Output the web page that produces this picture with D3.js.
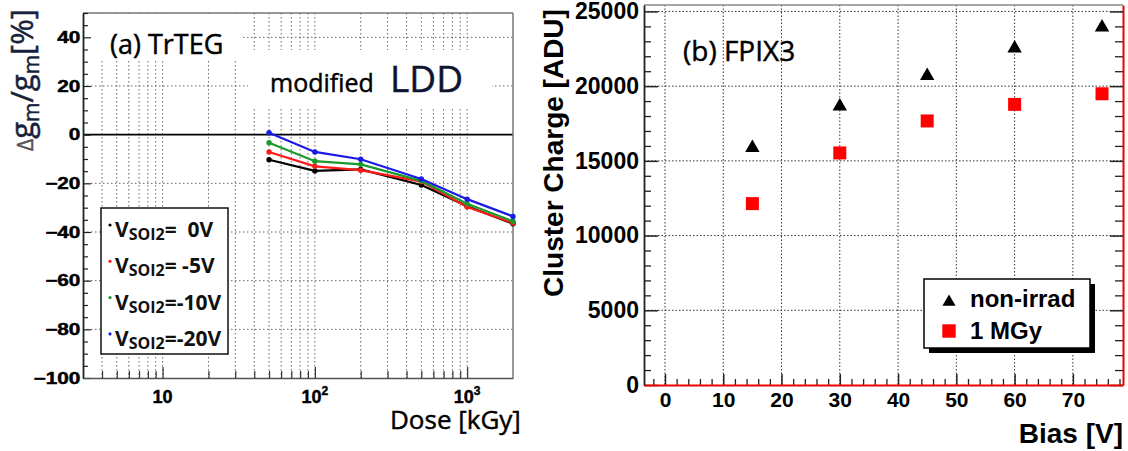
<!DOCTYPE html>
<html><head><meta charset="utf-8">
<script src="https://cdn.jsdelivr.net/npm/d3@7"></script>
<style>body{margin:0;background:#fff}svg{display:block}</style>
</head><body>
<svg id="c" width="1128" height="451"></svg>
<script>
// ---------- data: panel (a) ----------
const doses = [50, 100, 200, 500, 1000, 2000];
const vsoi0  = [-10.3, -14.9, -14.3, -20.7, -29.4, -36.6];
const vsoi5  = [-7.1, -13.0, -14.6, -19.3, -29.7, -36.3];
const vsoi10 = [-3.3, -10.9, -12.2, -19.0, -28.4, -35.6];
const vsoi20 = [0.8, -7.1, -10.1, -18.2, -26.5, -33.6];
const seriesNames = ["=  0V", "= -5V", "=-10V", "=-20V"];
const seriesColors = ["#000000", "#ff1a1a", "#1a9a2a", "#1a1ae6"];
const leftYTicks = [-100, -80, -60, -40, -20, 0, 20, 40];
const leftXTicks = [10, 100, 1000];
const leftXExp = ["", "2", "3"];

// ---------- data: panel (b) ----------
const bias = [15, 30, 45, 60, 75];
const nonIrrad = [16000, 18780, 20820, 22670, 24070];
const mgy1 = [12140, 15530, 17670, 18780, 19490];
const rightYTicks = [0, 5000, 10000, 15000, 20000, 25000];
const rightXTicks = [0, 10, 20, 30, 40, 50, 60, 70];
const legendB = ["non-irrad", "1 MGy"];

const svg = d3.select("#c");
const SANS = "'Liberation Sans', Arial, sans-serif";
const OPEN = "'Open Sans', 'Noto Sans', sans-serif";
// slightly heavier regular text (reference rendering is dark)
const heavy = (sel, col) => sel.attr("stroke", col).attr("stroke-width", 0.45).attr("paint-order", "fill");

// =============== PANEL (a) ===============
const A = {x0: 83, x1: 513, y0: 13, y1: 378};
const xL = d3.scaleLog().domain([3, 2000]).range([A.x0, A.x1]);
const yL = d3.scaleLinear().domain([-100, 50]).range([A.y1, A.y0]);

const gA = svg.append("g");
const logMinor = [];
for (let dec = 1; dec <= 1000; dec *= 10) for (let m = 1; m <= 9; m++) {
  const v = dec * m; if (v >= 4 && v <= 2000) logMinor.push(v);
}
// grid
gA.selectAll(".vg").data(logMinor.filter(v => v < 2000)).join("line")
  .attr("x1", d => xL(d)).attr("x2", d => xL(d)).attr("y1", A.y0).attr("y2", A.y1)
  .attr("stroke", "#666").attr("stroke-width", 1).attr("stroke-dasharray", "1.5,2.5");
gA.selectAll(".hg").data([-80, -60, -40, -20, 20, 40]).join("line")
  .attr("x1", A.x0).attr("x2", A.x1).attr("y1", d => yL(d)).attr("y2", d => yL(d))
  .attr("stroke", "#666").attr("stroke-width", 1).attr("stroke-dasharray", "1.5,2.5");
// white patches behind the annotations
gA.append("rect").attr("x", A.x0 + 1).attr("y", A.y0 + 1).attr("width", 157).attr("height", 47).attr("fill", "#fff");
gA.append("rect").attr("x", 248).attr("y", 50).attr("width", 244).attr("height", 57).attr("fill", "#fff");

// zero line
gA.append("line").attr("x1", A.x0).attr("x2", A.x1).attr("y1", yL(0)).attr("y2", yL(0))
  .attr("stroke", "#000").attr("stroke-width", 1.8);

// frame
gA.append("line").attr("x1", A.x0).attr("x2", A.x1).attr("y1", A.y0).attr("y2", A.y0).attr("stroke", "#777").attr("stroke-width", 1.5);
gA.append("line").attr("x1", A.x1).attr("x2", A.x1).attr("y1", A.y0).attr("y2", A.y1).attr("stroke", "#777").attr("stroke-width", 1.5);

// left axis
gA.append("g").attr("transform", `translate(${A.x0},0)`)
  .call(d3.axisLeft(yL).tickValues(d3.range(-95, 51, 5).filter(v => v % 20 !== 0)).tickSizeInner(-5).tickSizeOuter(0).tickFormat(""))
  .call(g => g.select(".domain").remove())
  .call(g => g.selectAll("line").attr("stroke", "#222").attr("stroke-width", 1.2));
gA.append("g").attr("transform", `translate(${A.x0},0)`)
  .call(d3.axisLeft(yL).tickValues(leftYTicks).tickSizeInner(-8).tickSizeOuter(0).tickPadding(2))
  .call(g => g.select(".domain").attr("stroke", "#222").attr("stroke-width", 1.8))
  .call(g => g.selectAll("line").attr("stroke", "#222").attr("stroke-width", 1.2))
  .call(g => heavy(g.selectAll("text").attr("font-family", SANS).attr("font-weight", "bold")
     .attr("font-size", 16).attr("fill", "#000").attr("transform", "scale(1.3,1)"), "#000"));

// bottom axis
gA.append("g").attr("transform", `translate(0,${A.y1})`)
  .call(d3.axisBottom(xL).tickValues(logMinor.filter(v => v < 2000 && !leftXTicks.includes(v))).tickSizeInner(-7).tickSizeOuter(0).tickFormat(""))
  .call(g => g.select(".domain").attr("stroke", "#555").attr("stroke-width", 1.5))
  .call(g => g.selectAll("line").attr("stroke", "#333").attr("stroke-width", 1.2));
gA.append("g").attr("transform", `translate(0,${A.y1})`)
  .call(d3.axisBottom(xL).tickValues(leftXTicks).tickSizeInner(-11).tickSizeOuter(0).tickFormat(""))
  .call(g => g.select(".domain").remove())
  .call(g => g.selectAll("line").attr("stroke", "#333").attr("stroke-width", 1.2));
const xlab = gA.selectAll(".xl").data(leftXTicks).join("text")
  .attr("x", d => xL(d)).attr("y", A.y1 + 25).attr("text-anchor", "middle")
  .attr("font-family", SANS).attr("font-weight", "bold").attr("font-size", 18).attr("fill", "#000");
heavy(xlab, "#000");
xlab.append("tspan").text("10");
xlab.append("tspan").attr("font-size", 12).attr("dy", -8).text((d, i) => leftXExp[i]);

// series
const seriesA = [vsoi0, vsoi5, vsoi10, vsoi20];
const line = d3.line().x(d => xL(d[0])).y(d => yL(d[1]));
seriesA.forEach((vals, i) => {
  const pts = doses.map((d, j) => [d, vals[j]]);
  gA.append("path").datum(pts).attr("d", line).attr("fill", "none")
    .attr("stroke", seriesColors[i]).attr("stroke-width", 2.2);
  gA.selectAll(null).data(pts).join("circle")
    .attr("cx", d => xL(d[0])).attr("cy", d => yL(d[1])).attr("r", 2.7).attr("fill", seriesColors[i]);
});

// legend (a)
const lgA = gA.append("g");
lgA.append("rect").attr("x", 101).attr("y", 208).attr("width", 127).attr("height", 146)
  .attr("fill", "#fff").attr("stroke", "#111").attr("stroke-width", 1.5);
seriesNames.forEach((nm, i) => {
  const by = 237 + i * 36.3;
  lgA.append("circle").attr("cx", 110).attr("cy", by - 12).attr("r", 1.6).attr("fill", seriesColors[i]);
  const t = lgA.append("text").attr("x", 115).attr("y", by).attr("xml:space", "preserve")
    .attr("font-family", OPEN).attr("font-weight", "bold").attr("font-size", 21).attr("fill", "#111");
  t.append("tspan").text("V");
  t.append("tspan").attr("font-size", 16).attr("dy", 3).text("SOI2");
  t.append("tspan").attr("dy", -3).text(nm);
});

// annotations (a)
heavy(gA.append("text").attr("x", 110).attr("y", 54).attr("font-family", OPEN).attr("font-size", 27).attr("fill", "#000").text("(a) TrTEG"), "#000");
heavy(gA.append("text").attr("x", 270).attr("y", 92).attr("font-family", OPEN).attr("font-size", 25).attr("fill", "#000").text("modified"), "#000");
heavy(gA.append("text").attr("x", 390).attr("y", 92).attr("font-family", OPEN).attr("font-size", 37).attr("fill", "#0d1530").text("LDD"), "#0d1530");
const dl = gA.append("text").attr("x", 390).attr("y", 429).attr("font-family", OPEN).attr("font-size", 26).attr("fill", "#000");
heavy(dl, "#000");
dl.append("tspan").text("Dose ");
dl.append("tspan").text("[kGy]");

const yt = gA.append("text").attr("transform", "translate(33,80) rotate(-90)").attr("text-anchor", "middle")
  .attr("font-family", OPEN).attr("font-size", 31).attr("fill", "#16223a");
heavy(yt, "#16223a");
yt.append("tspan").attr("font-size", 21).attr("fill", "#555").attr("stroke", "#555").text("Δ");
yt.append("tspan").text("g");
yt.append("tspan").attr("font-size", 21).attr("dy", 6).text("m");
yt.append("tspan").attr("dy", -6).text("/g");
yt.append("tspan").attr("font-size", 21).attr("dy", 6).text("m");
yt.append("tspan").attr("dy", -6).text("[%]");

// =============== PANEL (b) ===============
const B = {x0: 644, x1: 1123, y0: 5, y1: 385};
const xR = d3.scaleLinear().domain([-3.6, 78.6]).range([B.x0, B.x1]);
const yR = d3.scaleLinear().domain([0, 25430]).range([B.y1, B.y0]);
const gB = svg.append("g");

// grid
gB.selectAll(".vg").data(rightXTicks).join("line")
  .attr("x1", d => xR(d)).attr("x2", d => xR(d)).attr("y1", B.y0).attr("y2", B.y1)
  .attr("stroke", "#333").attr("stroke-width", 1).attr("stroke-dasharray", "1.5,2");
gB.selectAll(".hg").data(rightYTicks.filter(v => v > 0)).join("line")
  .attr("x1", B.x0).attr("x2", B.x1).attr("y1", d => yR(d)).attr("y2", d => yR(d))
  .attr("stroke", "#333").attr("stroke-width", 1).attr("stroke-dasharray", "1.5,2");

// frame top
gB.append("line").attr("x1", B.x0).attr("x2", B.x1).attr("y1", B.y0).attr("y2", B.y0).attr("stroke", "#888").attr("stroke-width", 1.5);

const minorY = d3.range(1000, 25001, 1000).filter(v => v % 5000 !== 0);
// left axis
gB.append("g").attr("transform", `translate(${B.x0},0)`)
  .call(d3.axisLeft(yR).tickValues(minorY).tickSizeInner(-7).tickSizeOuter(0).tickFormat(""))
  .call(g => g.select(".domain").remove()).call(g => g.selectAll("line").attr("stroke", "#222").attr("stroke-width", 1.3));
gB.append("g").attr("transform", `translate(${B.x0},0)`)
  .call(d3.axisLeft(yR).tickValues(rightYTicks).tickSizeInner(-14).tickSizeOuter(0).tickPadding(5).tickFormat(d3.format("d")))
  .call(g => g.select(".domain").attr("stroke", "#222").attr("stroke-width", 1.8))
  .call(g => g.selectAll("line").attr("stroke", "#222").attr("stroke-width", 1.5))
  .call(g => g.selectAll("text").attr("font-family", SANS).attr("font-weight", "bold").attr("font-size", 23).attr("fill", "#000"));
// right axis
gB.append("g").attr("transform", `translate(${B.x1},0)`)
  .call(d3.axisRight(yR).tickValues(minorY).tickSizeInner(-8).tickSizeOuter(0).tickFormat(""))
  .call(g => g.select(".domain").remove()).call(g => g.selectAll("line").attr("stroke", "#222").attr("stroke-width", 1.3));
gB.append("g").attr("transform", `translate(${B.x1},0)`)
  .call(d3.axisRight(yR).tickValues(rightYTicks).tickSizeInner(-13).tickSizeOuter(0).tickFormat(""))
  .call(g => g.select(".domain").attr("stroke", "#e00").attr("stroke-width", 2))
  .call(g => g.selectAll("line").attr("stroke", "#222").attr("stroke-width", 1.5));
// bottom axis
const minorX = d3.range(-2, 79, 2).filter(v => v % 10 !== 0);
gB.append("g").attr("transform", `translate(0,${B.y1})`)
  .call(d3.axisBottom(xR).tickValues(minorX).tickSizeInner(-6).tickSizeOuter(0).tickFormat(""))
  .call(g => g.select(".domain").remove()).call(g => g.selectAll("line").attr("stroke", "#222").attr("stroke-width", 1.3));
gB.append("g").attr("transform", `translate(0,${B.y1})`)
  .call(d3.axisBottom(xR).tickValues(rightXTicks).tickSizeInner(-11).tickSizeOuter(0).tickPadding(7))
  .call(g => g.selectAll("line").attr("stroke", "#222").attr("stroke-width", 1.5))
  .call(g => g.select(".domain").attr("stroke", "#e00").attr("stroke-width", 2.2).raise())
  .call(g => g.selectAll("text").attr("font-family", SANS).attr("font-weight", "bold").attr("font-size", 21).attr("fill", "#000"));

// markers
gB.selectAll(".tri").data(bias.map((b, i) => [b, nonIrrad[i]])).join("path")
  .attr("d", d3.symbol(d3.symbolTriangle, 90))
  .attr("transform", d => `translate(${xR(d[0])},${yR(d[1]) + 2})`).attr("fill", "#000");
gB.selectAll(".sq").data(bias.map((b, i) => [b, mgy1[i]])).join("path")
  .attr("d", d3.symbol(d3.symbolSquare, 169))
  .attr("transform", d => `translate(${xR(d[0])},${yR(d[1])})`).attr("fill", "#ff0000");

// legend (b)
const lgB = gB.append("g");
lgB.append("rect").attr("x", 929).attr("y", 284).attr("width", 166).attr("height", 69).attr("fill", "#000");
lgB.append("rect").attr("x", 924).attr("y", 279).attr("width", 166).attr("height", 69)
  .attr("fill", "#fff").attr("stroke", "#000").attr("stroke-width", 1.5);
lgB.append("path").attr("d", d3.symbol(d3.symbolTriangle, 75)).attr("transform", "translate(949,302)").attr("fill", "#000");
lgB.append("path").attr("d", d3.symbol(d3.symbolSquare, 180)).attr("transform", "translate(949,331)").attr("fill", "#ff0000");
legendB.forEach((t, i) => {
  lgB.append("text").attr("x", 970).attr("y", 307 + i * 32).attr("font-family", SANS).attr("font-weight", "bold")
    .attr("font-size", 24).attr("fill", "#000").text(t);
});

// titles (b)
heavy(gB.append("text").attr("x", 683).attr("y", 61).attr("font-family", OPEN).attr("font-size", 28).attr("fill", "#000").text("(b) FPIX3"), "#000");
gB.append("text").attr("x", B.x1).attr("y", 443).attr("text-anchor", "end").attr("font-family", SANS).attr("font-weight", "bold")
  .attr("font-size", 28).attr("fill", "#000").text("Bias [V]");
gB.append("text").attr("transform", "translate(563,153) rotate(-90)").attr("text-anchor", "middle")
  .attr("font-family", SANS).attr("font-weight", "bold").attr("font-size", 28).attr("fill", "#000").text("Cluster Charge [ADU]");
</script>
</body></html>
